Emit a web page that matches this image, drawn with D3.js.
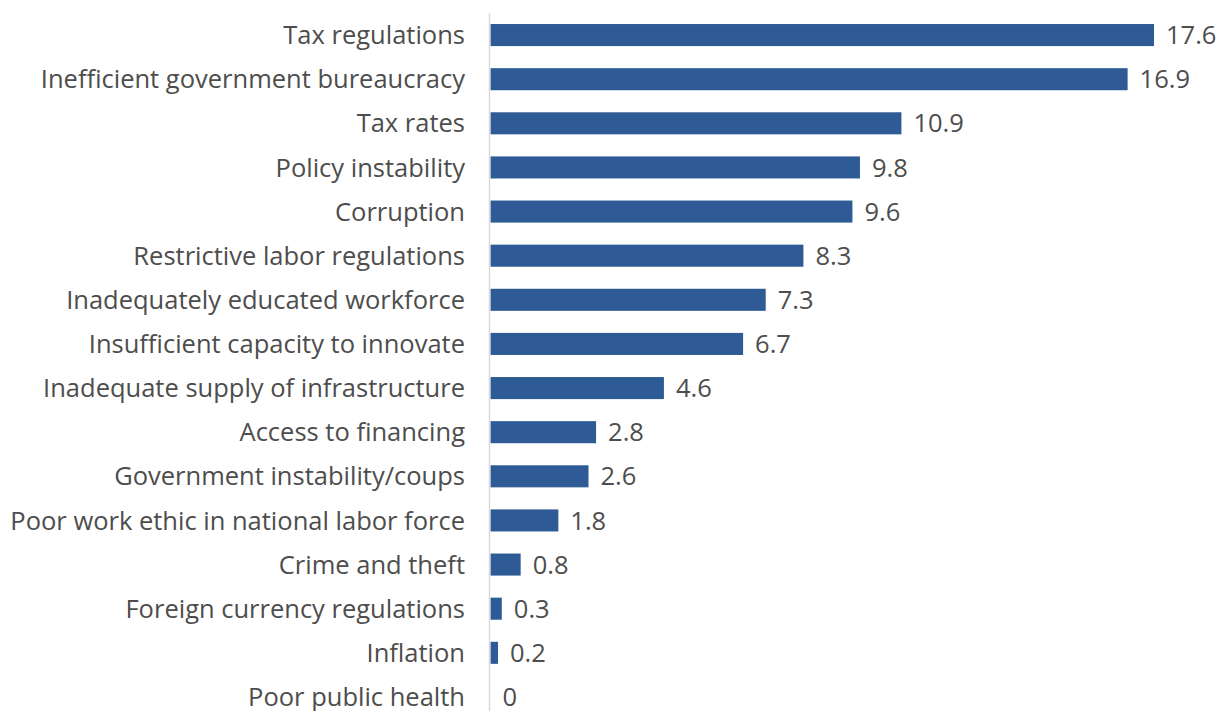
<!DOCTYPE html>
<html><head><meta charset="utf-8">
<script src="https://cdn.jsdelivr.net/npm/d3@7/dist/d3.min.js"></script>
<style>body{margin:0;background:#fff}svg{display:block}</style>
</head><body>
<svg id="c" width="1224" height="711"></svg>
<script>
const categories = ["Tax regulations","Inefficient government bureaucracy","Tax rates","Policy instability","Corruption","Restrictive labor regulations","Inadequately educated workforce","Insufficient capacity to innovate","Inadequate supply of infrastructure","Access to financing","Government instability/coups","Poor work ethic in national labor force","Crime and theft","Foreign currency regulations","Inflation","Poor public health"];
const values = [17.6,16.9,10.9,9.8,9.6,8.3,7.3,6.7,4.6,2.8,2.6,1.8,0.8,0.3,0.2,0];

const svg = d3.select("#c");
const x0 = 490.5;
const x = d3.scaleLinear().domain([0,17.6]).range([x0,1154]);
const y = d3.scaleBand().domain(categories).range([13,719]).paddingInner(0.5).paddingOuter(0.25);
const font = "'Open Sans', sans-serif";
const fs = 25.5;

svg.selectAll("rect.bar").data(values).join("rect")
  .attr("x", x0)
  .attr("y", (d,i)=>y(categories[i]))
  .attr("width", d=>x(d)-x0)
  .attr("height", y.bandwidth())
  .attr("fill", "#2e5b96");

svg.append("line").attr("x1",489.5).attr("x2",489.5).attr("y1",13).attr("y2",711)
  .attr("stroke","#d9d9d9").attr("stroke-width",1.5);

svg.selectAll("text.cat").data(categories).join("text")
  .attr("x", 465).attr("y", d=>y(d)+y.bandwidth()/2)
  .attr("dy","0.36em").attr("text-anchor","end")
  .attr("font-family",font).attr("font-size",fs).attr("fill","#4d4d4d")
  .text(d=>d);

svg.selectAll("text.val").data(values).join("text")
  .attr("x", d=>x(d)+12).attr("y", (d,i)=>y(categories[i])+y.bandwidth()/2)
  .attr("dy","0.36em")
  .attr("font-family",font).attr("font-size",fs).attr("fill","#4d4d4d")
  .text(d=>d);
</script>
</body></html>
